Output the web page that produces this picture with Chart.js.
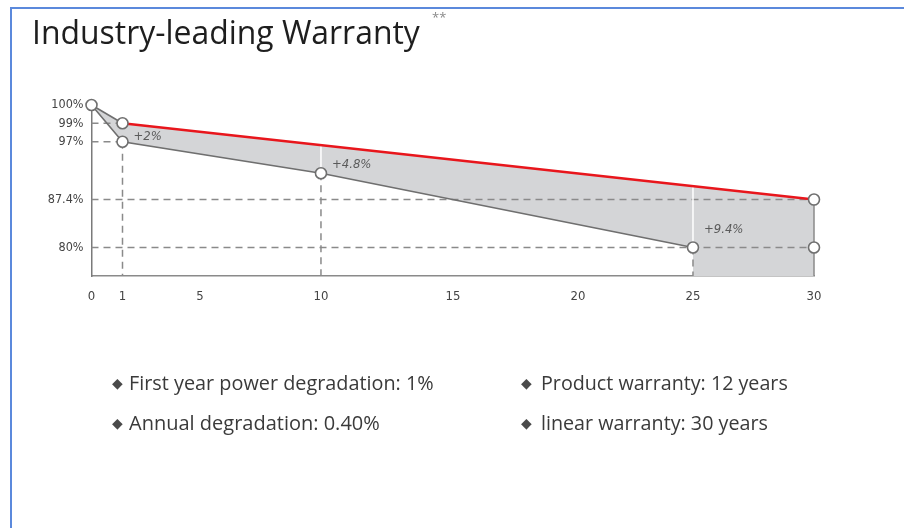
<!DOCTYPE html>
<html><head><meta charset="utf-8">
<script src="https://cdn.jsdelivr.net/npm/chart.js@4.4.1/dist/chart.umd.min.js"></script>
<style>
html,body{margin:0;padding:0;background:#fff;}
body{width:904px;height:528px;position:relative;overflow:hidden;font-family:'Open Sans',sans-serif;}
#frame{position:absolute;left:10px;top:7px;width:920px;height:540px;border-left:2px solid #5b89dc;border-top:2px solid #5b89dc;}
#chart{position:absolute;left:0;top:0;}
.t{position:absolute;white-space:nowrap;line-height:1;}
#title{left:32px;top:18px;font-size:28px;color:#1e1e1e;}
#stars{left:432px;top:11px;font-size:13px;color:#8a8a8a;}
.b{font-size:17px;color:#3a3a3a;}
.d{position:absolute;font-family:'DejaVu Sans',sans-serif;font-size:14px;color:#4a4a4a;line-height:1;}
</style></head><body>
<div id="frame"></div>
<canvas id="chart" width="904" height="528"></canvas>
<div id="title" class="t" data-w="388" data-b="43.5">Industry-leading Warranty</div>
<div id="stars" class="t">**</div>
<div class="d" style="left:112px;top:376px">◆</div>
<div class="t b" style="left:129px;top:375px" data-w="305" data-b="390">First year power degradation: 1%</div>
<div class="d" style="left:112px;top:416px">◆</div>
<div class="t b" style="left:129px;top:415px" data-w="251" data-b="430">Annual degradation: 0.40%</div>
<div class="d" style="left:521px;top:376px">◆</div>
<div class="t b" style="left:541px;top:375px" data-w="247" data-b="390">Product warranty: 12 years</div>
<div class="d" style="left:521px;top:416px">◆</div>
<div class="t b" style="left:541px;top:415px" data-w="227" data-b="430">linear warranty: 30 years</div>
<script>
// ---- data ----
const xTickYears = [0, 1, 5, 10, 15, 20, 25, 30];
const yTickValues = [80, 87.4, 97, 99, 100];
const startYear = 0, startValue = 100;
const warrantyYears = [1, 30];
const warrantyValues = [99, 87.4];
const industryYears = [0, 1, 10, 25];
const industryValues = [100, 97, 90.6, 80];
const gainYears = [1, 10, 25];
const gainValues = [2, 4.8, 9.4];
const gainLabels = ['+2%', '+4.8%', '+9.4%'];
const markerYears = [0, 1, 1, 10, 25, 30, 30];
const markerValues = [100, 99, 97, 90.6, 80, 87.4, 80];
const hGuideValues = [99, 97, 87.4, 80];
const hGuideEndYears = [1, 1, 30, 30];
const vGuideYears = [1, 10, 25];
const vGuideValues = [97, 90.6, 80];
const dividerYears = [10, 25];
const X_MIN = 0, X_MAX = 30, Y_MIN = 75, Y_MAX = 100;

const NARROW = "'Liberation Sans Narrow','DejaVu Sans Condensed','Arial Narrow',sans-serif";

// ---- piecewise (hand-drawn) axis ----
class PiecewiseScale extends Chart.LinearScale {
  static id = 'piecewise';
  static defaults = {};
  _frac(v) {
    const b = this.options.breaks, vs = b.v, fs = b.f;
    if (v <= vs[0]) return fs[0];
    for (let i = 1; i < vs.length; i++) {
      if (v <= vs[i]) return fs[i-1] + (v - vs[i-1]) / (vs[i] - vs[i-1]) * (fs[i] - fs[i-1]);
    }
    return fs[fs.length-1];
  }
  getPixelForValue(v) {
    if (v === null || v === undefined || isNaN(v)) return NaN;
    return this.getPixelForDecimal(this._frac(v));
  }
  getValueForPixel(p) {
    const d = this.getDecimalForPixel(p);
    const b = this.options.breaks, vs = b.v, fs = b.f;
    if (d <= fs[0]) return vs[0];
    for (let i = 1; i < fs.length; i++) {
      if (d <= fs[i]) return vs[i-1] + (d - fs[i-1]) / (fs[i] - fs[i-1]) * (vs[i] - vs[i-1]);
    }
    return vs[vs.length-1];
  }
}
Chart.register(PiecewiseScale);

// ---- build datasets from data ----
const pts = (xs, ys) => xs.map((x, i) => ({x, y: ys[i]}));
const valAt = (yr) => industryValues[industryYears.indexOf(yr)];

const upper = [{x: startYear, y: startValue}, ...pts(warrantyYears, warrantyValues)];
const lowerRev = pts(industryYears, industryValues).reverse();
const lastInd = industryYears[industryYears.length-1];
const polygon = [
  ...upper,
  {x: X_MAX, y: Y_MIN},
  {x: lastInd, y: Y_MIN},
  ...lowerRev.slice(0, lowerRev.length - 1)
];

const base = {pointRadius: 0, pointHoverRadius: 0, tension: 0, clip: false, fill: false};
const datasets = [];
datasets.push({...base, data: polygon, fill: 'shape', backgroundColor: '#d4d5d7', borderWidth: 0, order: 10});
hGuideValues.forEach((v, i) => datasets.push({...base, data: [{x: X_MIN, y: v}, {x: hGuideEndYears[i], y: v}],
  borderColor: '#8a8a8a', borderWidth: 1.5, borderDash: [7, 5], order: 9}));
vGuideYears.forEach((yr, i) => datasets.push({...base, data: [{x: yr, y: vGuideValues[i]}, {x: yr, y: Y_MIN}],
  borderColor: '#8a8a8a', borderWidth: 1.5, borderDash: [7, 5], order: 9}));
dividerYears.forEach(yr => {
  const g = gainValues[gainYears.indexOf(yr)];
  datasets.push({...base, data: [{x: yr, y: valAt(yr)}, {x: yr, y: valAt(yr) + g}],
    borderColor: '#ffffff', borderWidth: 1.5, order: 8});
});
datasets.push({...base, data: [{x: X_MAX, y: warrantyValues[warrantyValues.length-1]}, {x: X_MAX, y: Y_MIN}],
  borderColor: '#8a8a8a', borderWidth: 1.5, order: 7});
datasets.push({...base, data: pts(industryYears, industryValues), borderColor: '#6f6f6f', borderWidth: 1.6, order: 6});
datasets.push({...base, data: [{x: startYear, y: startValue}, {x: warrantyYears[0], y: warrantyValues[0]}],
  borderColor: '#6f6f6f', borderWidth: 1.6, order: 6});
datasets.push({...base, data: pts(warrantyYears, warrantyValues), borderColor: '#e8161c', borderWidth: 2.6, order: 5});
datasets.push({data: pts(markerYears, markerValues), showLine: false, clip: false, order: 0,
  pointRadius: 5.5, pointHoverRadius: 5.5, pointBackgroundColor: '#ffffff', pointBorderColor: '#6f6f6f', pointBorderWidth: 1.6});

const gainLabelPlugin = {
  id: 'gainLabels',
  afterDatasetsDraw(chart) {
    const {ctx, scales: {x, y}} = chart;
    ctx.save();
    ctx.font = "italic 13px " + NARROW;
    ctx.fillStyle = '#5a5a5a';
    ctx.textAlign = 'left';
    ctx.textBaseline = 'middle';
    gainYears.forEach((yr, i) => {
      const lo = y.getPixelForValue(valAt(yr));
      const up = y.getPixelForValue(valAt(yr) + gainValues[i]);
      ctx.fillText(gainLabels[i], x.getPixelForValue(yr) + 11, lo + 0.3 * (up - lo));
    });
    ctx.restore();
  }
};

new Chart(document.getElementById('chart'), {
  type: 'line',
  data: {datasets},
  plugins: [gainLabelPlugin],
  options: {
    responsive: false,
    animation: false,
    events: [],
    layout: {autoPadding: false, padding: {left: 21.5, top: 105, right: 90, bottom: 222}},
    plugins: {legend: {display: false}, tooltip: {enabled: false}, title: {display: false}},
    scales: {
      x: {
        type: 'piecewise', min: X_MIN, max: X_MAX,
        breaks: {v: [0, 1, 5, 10, 15, 20, 25, 30], f: [0, 0.0429, 0.150, 0.3176, 0.5003, 0.6734, 0.8325, 1]},
        grid: {display: false, drawTicks: false},
        border: {display: true, color: '#8a8a8a', width: 1.5},
        ticks: {autoSkip: false, maxRotation: 0, padding: 13, color: '#444', font: {family: NARROW, size: 13},
          callback: v => String(v)},
        afterBuildTicks: s => { s.ticks = xTickYears.map(v => ({value: v})); },
        afterFit: s => { s.height = 30; s.paddingLeft = 0; s.paddingRight = 0; }
      },
      y: {
        type: 'piecewise', min: Y_MIN, max: Y_MAX,
        breaks: {v: [75, 80, 87.4, 89.4, 90.6, 95.4, 97, 99, 100], f: [0, 0.1667, 0.447, 0.524, 0.601, 0.764, 0.785, 0.893, 1]},
        grid: {display: false, drawTicks: false},
        border: {display: true, color: '#7a7a7a', width: 1.5},
        ticks: {autoSkip: false, padding: 8, color: '#444', font: {family: NARROW, size: 12.5},
          callback: v => v + '%'},
        afterBuildTicks: s => { s.ticks = yTickValues.map(v => ({value: v})); },
        afterFit: s => { s.width = 70; s.paddingTop = 0; s.paddingBottom = 0; }
      }
    }
  }
});

function fit(el) {
  const target = +el.dataset.w;
  const fs0 = parseFloat(getComputedStyle(el).fontSize);
  const w = el.getBoundingClientRect().width;
  el.style.fontSize = (fs0 * target / w) + 'px';
  const m = document.createElement('span');
  m.style.cssText = 'display:inline-block;width:0;height:0;vertical-align:baseline';
  el.appendChild(m);
  const bl = m.getBoundingClientRect().top - el.getBoundingClientRect().top;
  el.removeChild(m);
  el.style.top = (+el.dataset.b - bl) + 'px';
}
document.fonts.ready.then(() => {
  document.querySelectorAll('[data-w]').forEach(fit);
});
</script>
</body></html>
